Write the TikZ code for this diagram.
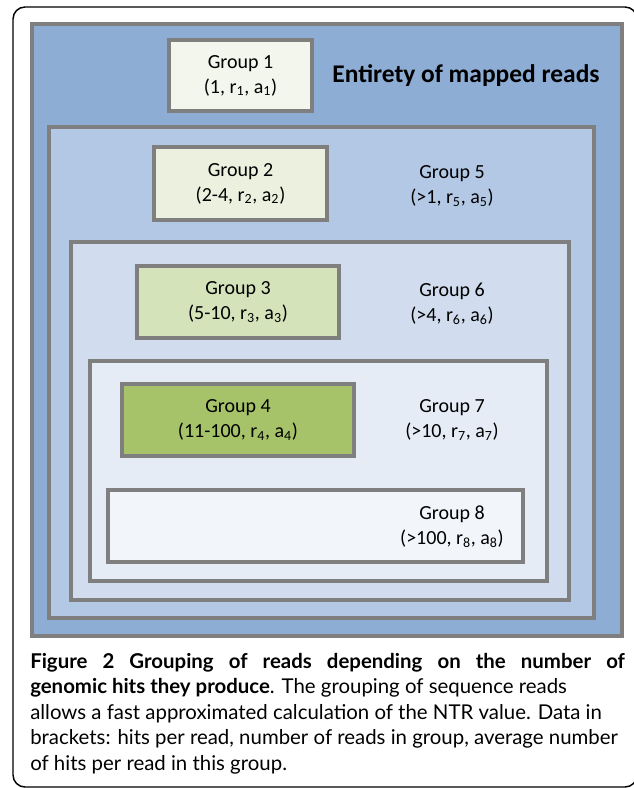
\documentclass[tikz,border=0pt]{standalone}
\usepackage{fontspec}
\setmainfont{Carlito}
\newfontfamily\capfont{Lato}
\usetikzlibrary{positioning,fit}

\definecolor{boxgray}{HTML}{7F7F7F}
\definecolor{levelA}{HTML}{8EADD5}
\definecolor{levelB}{HTML}{B3C8E4}
\definecolor{levelC}{HTML}{D1DDEE}
\definecolor{levelD}{HTML}{E5ECF6}
\definecolor{levelE}{HTML}{F2F5FA}
\definecolor{greenA}{HTML}{F3F6EC}
\definecolor{greenB}{HTML}{EBF1DE}
\definecolor{greenC}{HTML}{D5E3BB}
\definecolor{greenD}{HTML}{A6C36A}

\begin{document}
\begin{tikzpicture}[x=0.75pt,y=-0.75pt,
    level/.style={draw=boxgray, line width=3pt, inner sep=0pt},
    glabel/.style={align=center, font=\fontsize{15}{18.75}\selectfont},
    capline/.style={anchor=mid west, inner sep=0pt, font=\capfont\fontsize{15.3}{18}\selectfont}]

      \useasboundingbox (0,0) rectangle (634,788);
      \draw[line width=1.1pt, rounded corners=9pt] (13,7) rectangle (637,787);

      % Nested sets of reads
      \node[level, fill=levelA, fit={(32,24) (622,636)}]   (all) {};
      \node[level, fill=levelB, fit={(49,127) (594,618)}]  (set5) {};
      \node[level, fill=levelC, fit={(71,242) (569,600)}]  (set6) {};
      \node[level, fill=levelD, fit={(90,361) (547,581)}]  (set7) {};
      \node[level, fill=levelE, fit={(108,490) (523,562)}] (set8) {};

      % Groups with fixed hit ranges
      \node[level, fill=greenA, fit={(169,40) (312,111)}]  (box1) {};
      \node[level, fill=greenB, fit={(154,147) (327,220)}] (box2) {};
      \node[level, fill=greenC, fit={(137,266) (339,338)}] (box3) {};
      \node[level, fill=greenD, fit={(122,384) (354,456)}] (box4) {};
      \node[glabel] (g1) at (box1) {Group 1\\(1, r\textsubscript{1}, a\textsubscript{1})};
      \node[glabel] (g2) at (box2) {Group 2\\(2-4, r\textsubscript{2}, a\textsubscript{2})};
      \node[glabel] (g3) at (box3) {Group 3\\(5-10, r\textsubscript{3}, a\textsubscript{3})};
      \node[glabel] (g4) at (box4) {Group 4\\(11-100, r\textsubscript{4}, a\textsubscript{4})};

      % Labels of the nested sets
      \node[font=\bfseries\fontsize{19.1}{22}\selectfont] (entire) at (466,76) {Entirety of mapped reads};
      \node[glabel] (g5) at (452,186) {Group 5\\(>1, r\textsubscript{5}, a\textsubscript{5})};
      \node[glabel] (g6) at (452,304) {Group 6\\(>4, r\textsubscript{6}, a\textsubscript{6})};
      \node[glabel] (g7) at (452,420) {Group 7\\(>10, r\textsubscript{7}, a\textsubscript{7})};
      \node[glabel] (g8) at (452,527) {Group 8\\(>100, r\textsubscript{8}, a\textsubscript{8})};

      % Caption
      \node[capline] (cap1) at (30,665) {\makebox[446pt][s]{\bfseries Figure 2 Grouping of reads depending on the number of}};
      \node[capline] (cap2) at (30,690) {\textbf{genomic hits they produce}. The grouping of sequence reads};
      \node[capline] (cap3) at (30,716) {allows a fast approximated calculation of the NTR value. Data in};
      \node[capline] (cap4) at (30,741) {brackets: hits per read, number of reads in group, average number};
      \node[capline] (cap5) at (30,767) {of hits per read in this group.};

\end{tikzpicture}
\end{document}
